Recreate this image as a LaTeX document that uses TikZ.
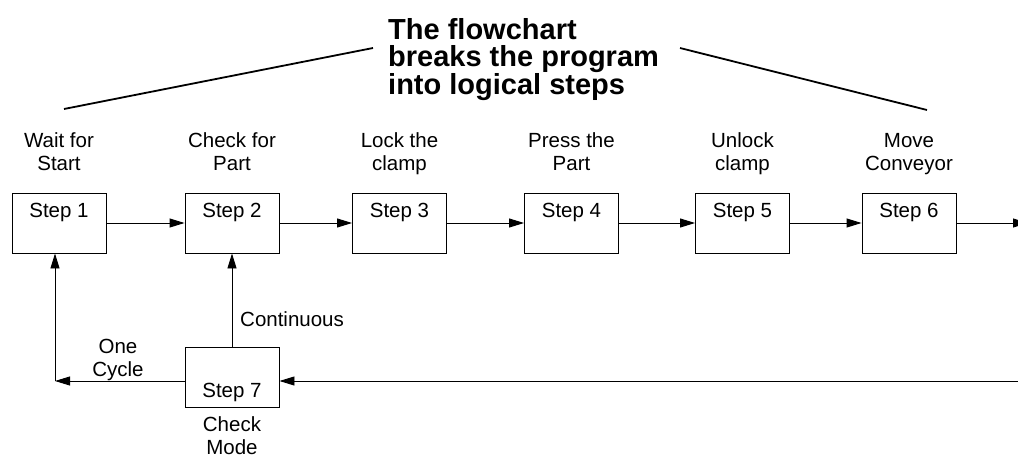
\documentclass[tikz,border=0pt]{standalone}
\usepackage{fontspec}
\setmainfont{Liberation Sans}
\usetikzlibrary{arrows.meta}
\begin{document}
\begin{tikzpicture}[x=1pt,y=-1pt,
  stepbox/.style={draw, line width=0.9pt, minimum width=94pt, minimum height=60pt, inner sep=0pt},
  lbl/.style={font=\fontsize{20.5}{22.5}\selectfont, align=center, inner sep=0pt},
  flow/.style={line width=0.9pt, -{Triangle[length=15pt,width=9pt]}},
  stepname/.style={font=\fontsize{20.5}{22.5}\selectfont, inner sep=0pt, anchor=base}]
\useasboundingbox (0,0) rectangle (1018,455);
\clip (0,0) rectangle (1018,455);
% boxes
\node[stepbox] (s1) at (59,223) {};
\node[stepbox] (s2) at (232,223) {};
\node[stepbox] (s3) at (399.5,223) {};
\node[stepbox] (s4) at (571.5,223) {};
\node[stepbox] (s5) at (742.5,223) {};
\node[stepbox] (s6) at (909,223) {};
\node[stepbox] (s7) at (232,377) {};
% step names
\node[stepname] (n1) at (59,217) {Step 1};
\node[stepname] (n2) at (232,217) {Step 2};
\node[stepname] (n3) at (399.5,217) {Step 3};
\node[stepname] (n4) at (571.5,217) {Step 4};
\node[stepname] (n5) at (742.5,217) {Step 5};
\node[stepname] (n6) at (909,217) {Step 6};
\node[stepname] (n7) at (232,397) {Step 7};
% labels above
\node[lbl, anchor=base] (l1) at (59,170) {Wait for\\Start};
\node[lbl, anchor=base] (l2) at (232,170) {Check for\\Part};
\node[lbl, anchor=base] (l3) at (399.5,170) {Lock the\\clamp};
\node[lbl, anchor=base] (l4) at (571.5,170) {Press the\\Part};
\node[lbl, anchor=base] (l5) at (742.5,170) {Unlock\\clamp};
\node[lbl, anchor=base] (l6) at (909,170) {Move\\Conveyor};
\node[lbl, anchor=base] (l7) at (232,454) {Check\\Mode};
\node[lbl, anchor=base] (one) at (118,376) {One\\Cycle};
\node[lbl, anchor=base west] (cont) at (240,326) {Continuous};
% title
\node[font=\fontsize{29}{27.5}\bfseries\selectfont, align=left, anchor=base west, inner sep=0pt] (title) at (388,94) {The flowchart\\breaks the program\\into logical steps};
% pointer lines
\coordinate (p1a) at (64,109);
\coordinate (p1b) at (373,48);
\coordinate (p2a) at (680,48);
\coordinate (p2b) at (927,110);
\draw[line width=1.8pt] (p1a) -- (p1b);
\draw[line width=1.8pt] (p2a) -- (p2b);
% forward arrows
\draw[flow] (s1) -- (s2);
\draw[flow] (s2) -- (s3);
\draw[flow] (s3) -- (s4);
\draw[flow] (s4) -- (s5);
\draw[flow] (s5) -- (s6);
\coordinate (out) at (1028,223);
\draw[flow] (s6) -- (out);
% feedback
\coordinate (corner) at (55,381);
\coordinate (right) at (1030,381);
\draw[flow] (s7.west |- corner) -- (corner);
\draw[flow] (corner) -- (corner |- s1.south);
\draw[flow] (s7.north) -- (s2.south);
\draw[flow] (right) -- (s7.east |- right);
\end{tikzpicture}
\end{document}
